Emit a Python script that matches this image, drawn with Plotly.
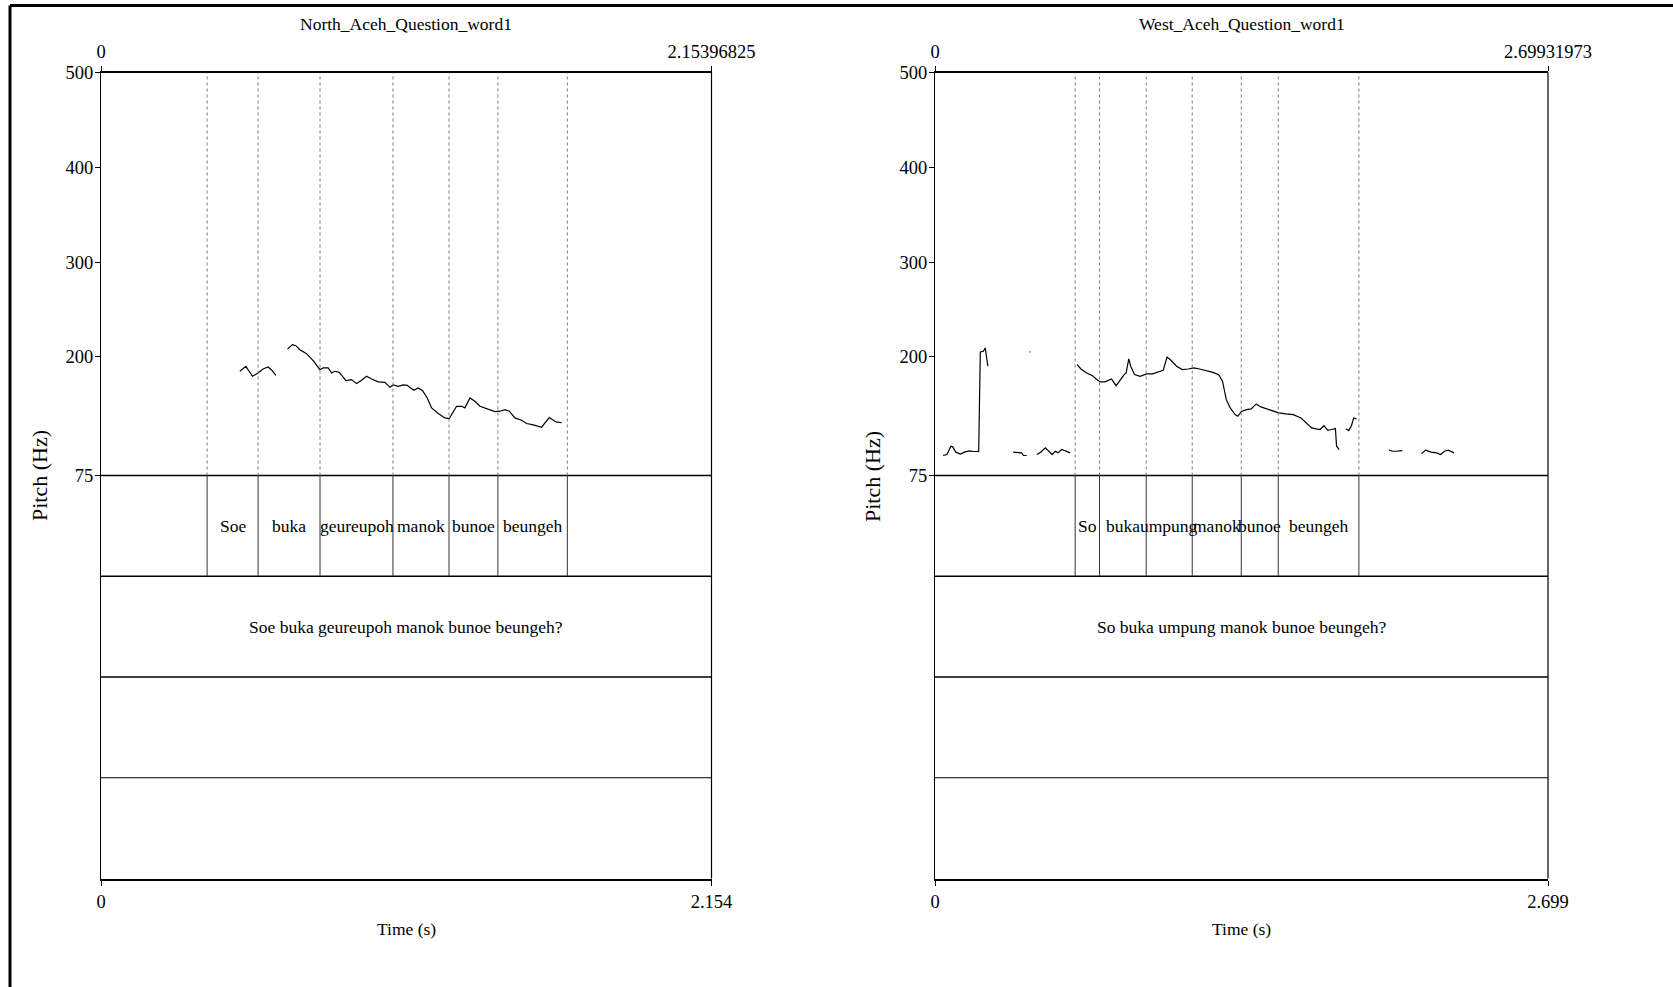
import plotly.graph_objects as go

W, H = 1673, 987
FONT = "Liberation Serif"

# ---------------- data ----------------
north_title = "North_Aceh_Question_word1"
north_dur = 2.15396825
north_dur_label = "2.154"
north_bounds = [0.3744, 0.5542, 0.7728, 1.0301, 1.2279, 1.4003, 1.6453]
north_words = ["Soe", "buka", "geureupoh", "manok", "bunoe", "beungeh"]
north_sentence = "Soe buka geureupoh manok bunoe beungeh?"
north_t = [0.4898, 0.5110, 0.5345, 0.5542, 0.5718, 0.5894, 0.6012, 0.6169, None,
           0.6581, 0.6757, 0.6875, 0.7016, 0.7251, 0.7510, 0.7722, 0.7839, 0.8016, 0.8134,
           0.8251, 0.8404, 0.8522, 0.8640, 0.8840, 0.9016, 0.9193, 0.9369, 0.9546, 0.9781,
           1.0016, 1.0193, 1.0311, 1.0487, 1.0663, 1.0805, 1.0923, 1.1040, 1.1193, 1.1346,
           1.1511, 1.1664, 1.1899, 1.2134, 1.2287, 1.2428, 1.2546, 1.2723, 1.2840, 1.3017,
           1.3193, 1.3370, 1.3546, 1.3723, 1.3899, 1.4076, 1.4252, 1.4405, 1.4605, 1.4841,
           1.5017, 1.5252, 1.5547, 1.5664, 1.5817, 1.5959, 1.6076, 1.6253]
north_f0 = [184.9, 190.1, 179.6, 183.2, 187.4, 189.5, 186.6, 180.6, None,
            208.4, 213.0, 211.9, 207.7, 203.5, 195.4, 186.6, 188.4, 188.4, 183.1,
            184.9, 183.8, 179.6, 175.1, 176.1, 171.9, 175.4, 179.6, 176.8, 173.7,
            173.3, 168.0, 170.5, 169.1, 170.5, 170.1, 167.3, 164.9, 167.3, 164.5,
            156.8, 146.3, 140.3, 135.7, 135.0, 142.8, 148.0, 148.0, 146.3, 156.8,
            153.3, 148.0, 146.3, 143.8, 142.4, 142.8, 144.5, 142.8, 135.7, 133.3,
            129.8, 128.4, 125.9, 130.5, 136.1, 133.3, 131.2, 130.8]

west_title = "West_Aceh_Question_word1"
west_dur = 2.69931973
west_dur_label = "2.699"
west_bounds = [0.6172, 0.7243, 0.9300, 1.1327, 1.3486, 1.5116, 1.8666]
west_words = ["So", "buka", "umpung", "manok", "bunoe", "beungeh"]
west_sentence = "So buka umpung manok bunoe beungeh?"
west_t = [0.0357, 0.0528, 0.0696, 0.0779, 0.0916, 0.1118, 0.1321, 0.1537, 0.1709, 0.1924,
          0.1995, 0.2127, 0.2211, 0.2329, None,
          0.3443, 0.3646, 0.3813, 0.3897, 0.4034, None,
          0.4163, 0.4203, None,
          0.4487, 0.4654, 0.4857, 0.5029, 0.5161, 0.5297, 0.5416, 0.5584, 0.5751, 0.5953, None,
          0.6257, 0.6425, 0.6680, 0.6931, 0.7098, 0.7270, 0.7486, 0.7688, 0.7772, 0.7975,
          0.8160, 0.8331, 0.8415, 0.8534, 0.8618, 0.8785, 0.9036, 0.9322, 0.9577, 0.9798,
          1.0049, 1.0216, 1.0388, 1.0639, 1.0890, 1.1145, 1.1396, 1.1651, 1.1902, 1.2241,
          1.2492, 1.2660, 1.2827, 1.2999, 1.3215, 1.3334, 1.3501, 1.3721, 1.3924, 1.4144,
          1.4346, 1.4597, 1.4853, 1.5139, 1.5443, 1.5777, 1.6116, 1.6367, 1.6588, 1.6790,
          1.6958, 1.7125, 1.7297, 1.7464, 1.7631, 1.7684, 1.7799, None,
          1.8102, 1.8221, 1.8340, 1.8441, 1.8560, None,
          1.9991, 2.0159, 2.0331, 2.0582, None,
          2.1423, 2.1594, 2.1845, 2.2096, 2.2264, 2.2435, 2.2603, 2.2770, 2.2854]
west_f0 = [96.1, 97.1, 105.9, 105.2, 99.6, 97.5, 99.9, 101.0, 100.3, 100.3,
           205.3, 206.0, 209.5, 190.2, None,
           99.6, 99.6, 98.9, 96.1, 96.1, None,
           205.3, 205.3, None,
           97.1, 99.6, 104.1, 99.6, 97.1, 100.6, 98.9, 102.4, 100.6, 98.9, None,
           191.9, 187.3, 183.1, 180.3, 176.8, 173.7, 173.7, 175.4, 176.8, 169.8,
           176.1, 181.4, 183.1, 197.9, 190.2, 181.4, 179.6, 182.1, 182.1, 183.8,
           185.9, 200.0, 196.5, 190.2, 186.7, 187.3, 188.4, 187.3, 185.9, 183.8,
           181.4, 174.4, 155.0, 146.3, 139.2, 137.5, 142.8, 144.5, 145.2, 150.5,
           147.3, 145.2, 143.8, 141.0, 139.9, 139.2, 135.7, 130.5, 125.2, 124.1,
           123.5, 127.7, 122.7, 123.5, 124.5, 105.9, 102.4, None,
           124.1, 122.4, 127.7, 135.7, 134.7, None,
           101.7, 100.6, 100.6, 101.3, None,
           97.8, 101.7, 99.6, 98.9, 97.1, 100.6, 101.7, 99.6, 98.9]

pitch_ticks = [75, 200, 300, 400, 500]
f_min, f_max = 75, 500

# ---------------- layout geometry ----------------
panels = [
    dict(title=north_title, dur=north_dur, dur_label=north_dur_label, bounds=north_bounds,
         words=north_words, sentence=north_sentence, t=north_t, f0=north_f0,
         x0=101, x1=711.5, ylab_x=39),
    dict(title=west_title, dur=west_dur, dur_label=west_dur_label, bounds=west_bounds,
         words=west_words, sentence=west_sentence, t=west_t, f0=west_f0,
         x0=935, x1=1548, ylab_x=872),
]
TIER = (f_max - f_min) / 4.0
y_bottom = f_min - 4 * TIER
top_px, bot_px = 72.5, 878.5
ydom = [1 - bot_px / H, 1 - top_px / H]
TXT = dict(family=FONT, size=17.5, color="black")
TICK = dict(family=FONT, size=18.5, color="black")

fig = go.Figure()
shapes = []
annotations = []
layout = dict(
    template="none",
    width=W, height=H, margin=dict(l=0, r=0, t=0, b=0, pad=0, autoexpand=False),
    paper_bgcolor="white", plot_bgcolor="white", showlegend=False,
    font=TXT,
)

for i, p in enumerate(panels):
    xa = "x" if i == 0 else f"x{2*i+1}"
    ya = "y" if i == 0 else f"y{i+1}"
    xt = f"x{2*i+2}"
    xa_key = "xaxis" if i == 0 else f"xaxis{2*i+1}"
    ya_key = "yaxis" if i == 0 else f"yaxis{i+1}"
    xt_key = f"xaxis{2*i+2}"
    dom = [p["x0"] / W, p["x1"] / W]

    fig.add_trace(go.Scatter(x=p["t"], y=p["f0"], mode="lines", xaxis=xa, yaxis=ya,
                             line=dict(color="black", width=1.2), connectgaps=False,
                             hoverinfo="skip"))
    fig.add_trace(go.Scatter(x=[0, p["dur"]], y=[None, None], mode="lines", xaxis=xt, yaxis=ya,
                             hoverinfo="skip"))

    common_x = dict(range=[0, p["dur"]], tickvals=[0, p["dur"]], ticks="outside", ticklen=5,
                    tickcolor="black", tickwidth=1, showgrid=False, zeroline=False,
                    showline=True, linecolor="black", linewidth=2, automargin=False,
                    tickfont=TICK)
    layout[xa_key] = dict(domain=dom, anchor=ya, ticktext=["0", p["dur_label"]], **common_x)
    layout[xt_key] = dict(domain=dom, anchor=ya, overlaying=xa, side="top",
                          ticktext=["0", f"{p['dur']:.8f}"], **common_x)
    layout[ya_key] = dict(domain=ydom, anchor=xa, range=[y_bottom, f_max],
                          tickvals=pitch_ticks, ticktext=[str(v) for v in pitch_ticks],
                          ticks="outside", ticklen=5, tickcolor="black", showgrid=False,
                          zeroline=False, showline=True, linecolor="black", linewidth=1,
                          automargin=False, tickfont=TICK, ticklabelstandoff=-2)

    xd = f"{xa} domain"
    yd = f"{ya} domain"
    # right frame line
    shapes.append(dict(type="line", xref=xd, yref=yd, x0=1, x1=1, y0=0, y1=1,
                       line=dict(color="black", width=1.2)))
    # tier horizontal lines
    for k in range(4):
        yv = f_min - k * TIER
        shapes.append(dict(type="line", xref=xa, yref=ya, x0=0, x1=p["dur"], y0=yv, y1=yv,
                           line=dict(color="black", width=1.5 if k < 3 else 1.2)))
    # boundaries
    for b in p["bounds"]:
        shapes.append(dict(type="line", xref=xa, yref=ya, x0=b, x1=b, y0=f_min, y1=f_max,
                           line=dict(color="#7a7a7a", width=1, dash="dot")))
        shapes.append(dict(type="line", xref=xa, yref=ya, x0=b, x1=b, y0=f_min - TIER, y1=f_min,
                           line=dict(color="#333333", width=1)))
    # interval labels
    for a, b, w in zip(p["bounds"][:-1], p["bounds"][1:], p["words"]):
        annotations.append(dict(x=(a + b) / 2, y=f_min - TIER / 2, xref=xa, yref=ya, text=w,
                                xanchor="center", yanchor="middle", showarrow=False, font=TXT))
    annotations.append(dict(x=p["dur"] / 2, y=f_min - 1.5 * TIER, xref=xa, yref=ya,
                            text=p["sentence"], xanchor="center", yanchor="middle",
                            showarrow=False, font=TXT))
    # titles
    cx = (dom[0] + dom[1]) / 2
    annotations.append(dict(x=cx, y=1 - 23.5 / H, xref="paper", yref="paper", text=p["title"],
                            xanchor="center", yanchor="middle", showarrow=False, font=TXT))
    annotations.append(dict(x=cx, y=1 - 929 / H, xref="paper", yref="paper", text="Time (s)",
                            xanchor="center", yanchor="middle", showarrow=False, font=TXT))
    annotations.append(dict(x=p["ylab_x"] / W, y=1 - 476 / H, xref="paper", yref="paper",
                            text="Pitch (Hz)", textangle=-90, xanchor="center",
                            yanchor="middle", showarrow=False,
                            font=dict(family=FONT, size=22, color="black")))

# outer frame (top and left)
shapes.append(dict(type="line", xref="paper", yref="paper", x0=10 / W, x1=1, y0=1 - 5.5 / H,
                   y1=1 - 5.5 / H, line=dict(color="black", width=3)))
shapes.append(dict(type="line", xref="paper", yref="paper", x0=10 / W, x1=10 / W, y0=0,
                   y1=1 - 5.5 / H, line=dict(color="black", width=3)))

layout["shapes"] = shapes
layout["annotations"] = annotations
fig.update_layout(**layout)
fig.write_html("out.html")
